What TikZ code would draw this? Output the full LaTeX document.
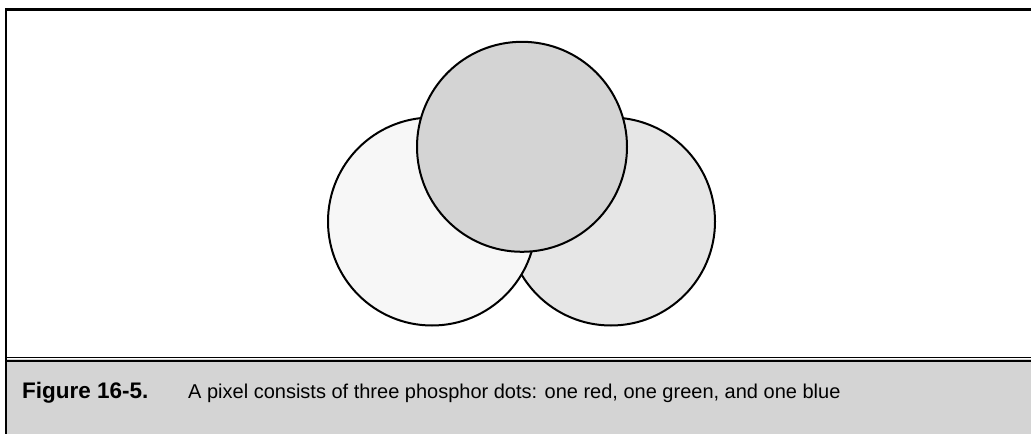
\documentclass[tikz,border=0pt]{standalone}
\usepackage{fontspec}
\setmainfont{Liberation Sans}
\definecolor{capbg}{HTML}{D4D4D4}
\definecolor{dotA}{HTML}{F7F7F7}
\definecolor{dotB}{HTML}{E6E6E6}
\definecolor{dotC}{HTML}{D4D4D4}
\begin{document}
\begin{tikzpicture}[x=1pt,y=-1pt,
  dot/.style={circle,draw=black,line width=2pt,inner sep=0pt,minimum size=#1},
  rule/.style={line width=2.6pt,black},
  captxt/.style={anchor=base west,inner sep=0pt,font=\fontsize{20}{24}\selectfont},
  figtxt/.style={anchor=base west,inner sep=0pt,font=\fontsize{22.5}{26}\selectfont\bfseries}]
\useasboundingbox (0,0) rectangle (1031,434);
\fill[white] (0,0) rectangle (1031,434);
\fill[capbg] (5,359) rectangle (1031,434);
% borders
\coordinate (tl) at (6,9.5);
\coordinate (tr) at (1031,9.5);
\coordinate (bl) at (6,434);
\draw[rule] (tr) -- (tl) -- (bl);
\draw[line width=1.5pt] (5,357.7) -- (1031,357.7);
\draw[line width=1.5pt] (5,360.8) -- (1031,360.8);
% dots
\node[dot=208pt,fill=dotB] (right) at (611,221.5) {};
\node[dot=208pt,fill=dotA] (left) at (432,221.5) {};
\node[dot=210pt,fill=dotC] (top) at (522,146.8) {};
% caption
\node[figtxt] (fig) at (22,398) {Figure 16-5.};
\node[captxt] (cap) at (188,398) {A pixel consists of three phosphor dots: one red, one green, and one blue};
\end{tikzpicture}
\end{document}
